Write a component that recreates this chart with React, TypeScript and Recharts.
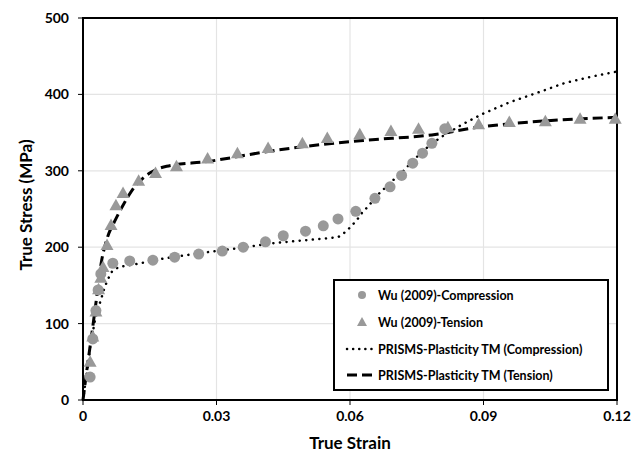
import React from 'react';
import { ComposedChart, Line, Scatter, XAxis, YAxis, CartesianGrid, ReferenceArea, Legend } from 'recharts';

// Wu (2009) compression experiment
const compExpStrain = [0.0016, 0.0022, 0.0029, 0.0034, 0.0040, 0.0067, 0.0105, 0.0157, 0.0206, 0.0260, 0.0313, 0.0360, 0.0410, 0.0450, 0.0500, 0.0540, 0.0573, 0.0613, 0.0656, 0.0690, 0.0716, 0.0741, 0.0763, 0.0784, 0.0813];
const compExpStress = [30, 80, 117, 144, 165, 179, 182, 183, 187, 191, 195, 200, 207, 215, 221, 228, 237, 247, 264, 279, 294, 310, 323, 336, 355];

// Wu (2009) tension experiment
const tensExpStrain = [0.0016, 0.0022, 0.0029, 0.0035, 0.0040, 0.0045, 0.0054, 0.0063, 0.0074, 0.0090, 0.0125, 0.0163, 0.0210, 0.0280, 0.0347, 0.0416, 0.0493, 0.0549, 0.0622, 0.0692, 0.0754, 0.0820, 0.0889, 0.0958, 0.1039, 0.1117, 0.1196];
const tensExpStress = [50, 83, 116, 145, 160, 174, 203, 229, 255, 271, 287, 297, 306, 316, 323, 330, 336, 343, 348, 352, 355, 357, 361, 364, 365, 368, 368];

// PRISMS-Plasticity compression model
const compSimStrain = [0, 0.0009, 0.0016, 0.0027, 0.0038, 0.0049, 0.0056, 0.0065, 0.0080, 0.0120, 0.0180, 0.0260, 0.0340, 0.0423, 0.0460, 0.0497, 0.0537, 0.0573, 0.0590, 0.0602, 0.0616, 0.0627, 0.0640, 0.0665, 0.0690, 0.0720, 0.0750, 0.0780, 0.0810, 0.0850, 0.0900, 0.0960, 0.1030, 0.1083, 0.1141, 0.1200];
const compSimStress = [0, 37, 69, 105, 127, 148, 158, 168, 174, 178, 185, 192, 198, 205, 207, 209, 211, 213, 220, 227, 236, 245, 253, 270, 284, 300, 318, 334, 346, 360, 375, 390, 404, 415, 423, 430];

// PRISMS-Plasticity tension model
const tensSimStrain = [0, 0.0010, 0.0022, 0.0032, 0.0042, 0.0050, 0.0058, 0.0067, 0.0090, 0.0116, 0.0150, 0.0188, 0.0278, 0.0412, 0.0486, 0.0635, 0.0784, 0.0889, 0.1007, 0.1200];
const tensSimStress = [0, 45, 96, 140, 183, 203, 218, 229, 255, 279, 297, 306, 312, 325, 331, 340, 347, 357, 364, 370];

const xTicks = [0, 0.03, 0.06, 0.09, 0.12];
const yTicks = [0, 100, 200, 300, 400, 500];

const legendLabels = [
  'Wu (2009)-Compression',
  'Wu (2009)-Tension',
  'PRISMS-Plasticity TM (Compression)',
  'PRISMS-Plasticity TM (Tension)',
];

const zip = (xs: number[], ys: number[]) => xs.map((x, i) => ({ x, y: ys[i] }));
const compExp = zip(compExpStrain, compExpStress);
const tensExp = zip(tensExpStrain, tensExpStress);
const compSim = zip(compSimStrain, compSimStress);
const tensSim = zip(tensSimStrain, tensSimStress);

const FONT = 'Lato, "Open Sans", sans-serif';
const GRAY = '#999999';

const Circle = (p: any) => <circle cx={p.cx} cy={p.cy} r={5.5} fill={GRAY} />;
const Tri = (p: any) => (
  <polygon points={`${p.cx},${p.cy - 6.5} ${p.cx + 6.5},${p.cy + 5} ${p.cx - 6.5},${p.cy + 5}`} fill={GRAY} />
);

const LegendBox = () => {
  const rowY = [14, 41, 68, 94];
  return (
    <div style={{ width: 272, height: 108, border: '2px solid #000', background: '#fff', position: 'absolute', left: 0, top: 0, fontFamily: FONT }}>
      <svg width={272} height={108} style={{ position: 'absolute', left: 0, top: 0 }}>
        <circle cx={27} cy={rowY[0]} r={4} fill={GRAY} />
        <polygon points={`27,${rowY[1] - 5} 32,${rowY[1] + 4} 22,${rowY[1] + 4}`} fill={GRAY} />
        <line x1={12} x2={42} y1={rowY[2]} y2={rowY[2]} stroke="#000" strokeWidth={2.5} strokeDasharray="0.1 6" strokeLinecap="round" />
        <line x1={12} x2={42} y1={rowY[3]} y2={rowY[3]} stroke="#000" strokeWidth={3} strokeDasharray="10 5" />
        {legendLabels.map((t, i) => (
          <text key={t} x={43} y={rowY[i]} dominantBaseline="central" fontSize={12.5} fontWeight={700} fill="#000" fontFamily={FONT}>
            {t}
          </text>
        ))}
      </svg>
    </div>
  );
};

const YLabel = () => (
  <text x={25} y={205} transform="rotate(-90 25 205)" textAnchor="middle" dominantBaseline="central" fontSize={17} fontWeight={700} fill="#000" fontFamily={FONT}>
    True Stress (MPa)
  </text>
);

const XLabel = () => (
  <text x={350} y={442} textAnchor="middle" dominantBaseline="central" fontSize={17} fontWeight={700} fill="#000" fontFamily={FONT}>
    True Strain
  </text>
);

export default function App() {
  return (
    <div style={{ position: 'absolute', left: 0, top: 0, background: '#fff' }}>
      <ComposedChart width={642} height={454} margin={{ top: 18, right: 25, bottom: 0, left: 0 }}>
        <CartesianGrid stroke="#e4e4e4" strokeWidth={1.2} />
        <XAxis
          type="number"
          dataKey="x"
          domain={[0, 0.12]}
          ticks={xTicks}
          height={54}
          tickSize={5}
          tickMargin={6}
          axisLine={{ stroke: '#000', strokeWidth: 2 }}
          tickLine={{ stroke: '#000', strokeWidth: 1 }}
          tick={{ fill: '#000', fontSize: 14, fontWeight: 700, fontFamily: FONT }}
          tickFormatter={(v: number) => (v === 0 ? '0' : String(v))}
          label={<XLabel />}
        />
        <YAxis
          type="number"
          dataKey="y"
          domain={[0, 500]}
          ticks={yTicks}
          width={83}
          tickSize={5}
          tickMargin={9}
          axisLine={{ stroke: '#000', strokeWidth: 2 }}
          tickLine={{ stroke: '#000', strokeWidth: 1 }}
          tick={{ fill: '#000', fontSize: 14, fontWeight: 700, fontFamily: FONT }}
          label={<YLabel />}
        />
        <ReferenceArea x1={0} x2={0.12} y1={0} y2={500} fill="none" stroke="#000" strokeWidth={2} ifOverflow="visible" />
        <Scatter name={legendLabels[0]} data={compExp} shape={Circle} isAnimationActive={false} />
        <Scatter name={legendLabels[1]} data={tensExp} shape={Tri} isAnimationActive={false} />
        <Line name={legendLabels[2]} data={compSim} dataKey="y" type="linear" stroke="#000" strokeWidth={2.5} strokeDasharray="0.1 6.5" strokeLinecap="round" dot={false} activeDot={false} isAnimationActive={false} />
        <Line name={legendLabels[3]} data={tensSim} dataKey="y" type="monotone" stroke="#000" strokeWidth={3} strokeDasharray="10 5" dot={false} activeDot={false} isAnimationActive={false} />
        <Legend content={() => <LegendBox />} wrapperStyle={{ position: 'absolute', left: 333, top: 279, width: 0, height: 0, overflow: 'visible' }} />
      </ComposedChart>
    </div>
  );
}
